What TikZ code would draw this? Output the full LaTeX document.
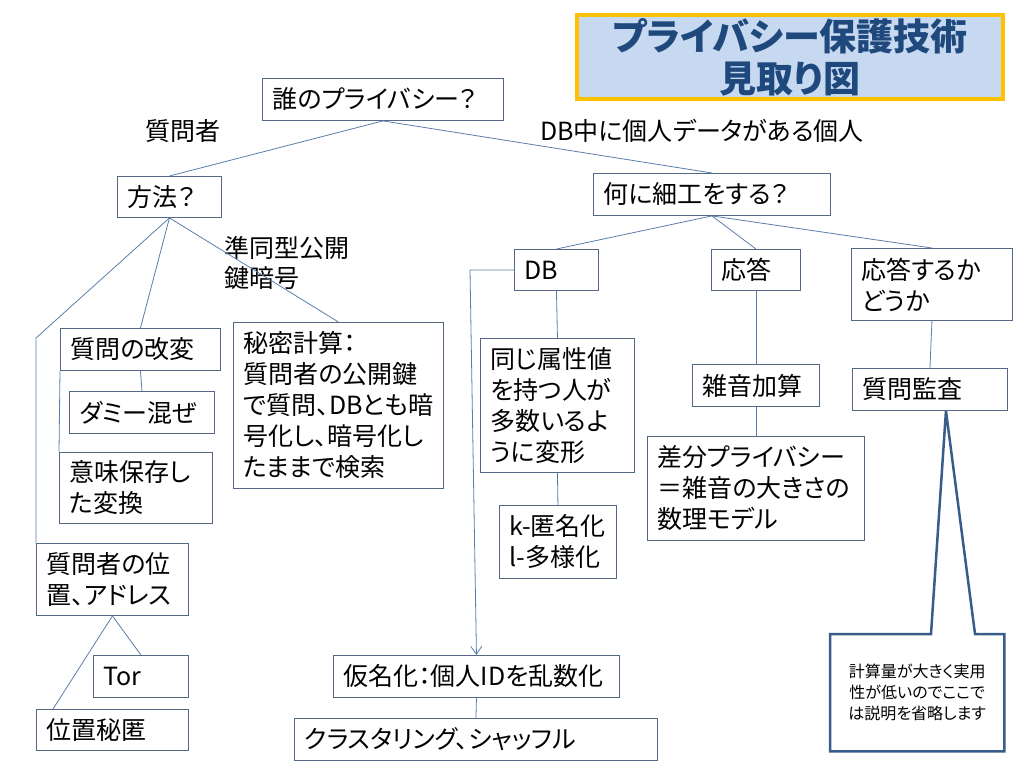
\documentclass[tikz,border=0pt]{standalone}
\usepackage{fontspec}
\setmainfont{Noto Sans CJK JP}[RawFeature=+palt]
\usepackage{tikz}
\usetikzlibrary{arrows.meta}

\definecolor{boxline}{RGB}{85,105,135}
\definecolor{linkc}{RGB}{90,125,170}
\definecolor{titlefill}{RGB}{198,217,241}
\definecolor{titleframe}{RGB}{255,192,0}
\definecolor{titletext}{RGB}{31,73,125}
\definecolor{calloutc}{RGB}{56,93,138}

\begin{document}
\begin{tikzpicture}[x=1pt, y=-1pt, >={Straight Barb[length=8pt,width=11pt]},
            font=\fontsize{25}{31}\selectfont]

            \tikzstyle{box} = [draw=boxline, line width=0.9pt, anchor=north west,
                inner xsep=10pt, inner ysep=0pt, align=left]
            \tikzstyle{plain} = [inner sep=0pt, align=left]
            \tikzstyle{link} = [draw=linkc, line width=0.8pt]
            \tikzstyle{title_box} = [fill=titlefill, draw=titleframe, line width=4.5pt,
                text=titletext, align=center, font=\fontsize{37}{42}\selectfont\bfseries]
            \tikzstyle{note_box} = [anchor=north west, inner xsep=7pt, inner ysep=0pt,
                align=center, font=\fontsize{16}{21}\selectfont]

            \useasboundingbox (0,0) rectangle (1024,768);

            \node[title_box, minimum width=426pt, minimum height=84pt](title) at (790, 57)
                {プライバシー保護技術\\見取り図};

            % top of the tree
            \node[box, text width=221pt, minimum height=42pt](who) at (262, 78) {誰のプライバシー？};
            \node[plain, anchor=west](lbl_asker) at (145, 131) {質問者};
            \node[plain, anchor=west](lbl_person) at (540, 131) {DB中に個人データがある個人};

            % asker side
            \node[box, text width=84pt, minimum height=41pt](method) at (117, 176) {方法？};
            \node[plain, anchor=north west, font=\fontsize{25}{30}\selectfont](lbl_he) at (224, 236) {準同型公開\\鍵暗号};
            \node[box, text width=140pt, minimum height=42pt](q_mod) at (60, 328) {質問の改変};
            \node[box, text width=190pt, minimum height=166pt](secret) at (233, 322)
                {秘密計算：\\質問者の公開鍵\\で質問、DBとも暗\\号化し、暗号化し\\たままで検索};
            \node[box, text width=125pt, minimum height=42pt](dummy) at (69, 391) {ダミー混ぜ};
            \node[box, text width=133pt, minimum height=71pt](semantic) at (59, 452) {意味保存し\\た変換};
            \node[box, text width=132pt, minimum height=72pt](location) at (36, 543) {質問者の位\\置、アドレス};
            \node[box, text width=75pt, minimum height=42pt](tor) at (93, 655) {Tor};
            \node[box, text width=132pt, minimum height=41pt](hide) at (36, 709) {位置秘匿};

            % data side
            \node[box, text width=217pt, minimum height=42pt](what) at (593, 173) {何に細工をする？};
            \node[box, text width=64pt, minimum height=41pt](db) at (514, 249) {DB};
            \node[box, text width=69pt, minimum height=41pt](answer) at (711, 249) {応答};
            \node[box, text width=141pt, minimum height=72pt](whether) at (851, 248) {応答するか\\どうか};
            \node[box, text width=134pt, minimum height=134pt](same_attr) at (480, 338)
                {同じ属性値\\を持つ人が\\多数いるよ\\うに変形};
            \node[box, text width=97pt, minimum height=73pt](k_anon) at (499, 505) {k-匿名化\\l-多様化};
            \node[box, text width=107pt, minimum height=42pt](noise) at (692, 364) {雑音加算};
            \node[box, text width=197pt, minimum height=104pt](diff_priv) at (647, 436)
                {差分プライバシー\\＝雑音の大きさの\\数理モデル};
            \node[box, text width=135pt, minimum height=42pt](audit) at (852, 368) {質問監査};
            \node[box, text width=266pt, minimum height=42pt](pseudo) at (333, 655) {仮名化：個人IDを乱数化};
            \node[box, text width=343pt, minimum height=42pt](cluster) at (294, 718) {クラスタリング、シャッフル};

            \node[note_box, text width=160pt, minimum height=117pt](note) at (830, 634)
                {計算量が大きく実用\\性が低いのでここで\\は説明を省略します};

            \coordinate (left_bend) at (36, 338);
            \coordinate (db_bend) at (470, 270);

            \path[link] (who.south) edge (method.north)
                (who.south) edge (what.north)
                (method.south) edge (q_mod.north)
                (method.south) edge (secret.north)
                (q_mod.south) edge (dummy.north)
                (q_mod.south west) edge (semantic.north west)
                (location.south) edge (tor.north)
                (location.south) edge ([xshift=17pt]hide.north west)
                (what.south) edge (db.north)
                (what.south) edge (answer.north)
                (what.south) edge (whether.north)
                (db.south) edge (same_attr.north)
                (same_attr.south) edge (k_anon.north)
                (answer.south) edge (noise.north)
                (noise.south) edge (diff_priv.north)
                (whether.south) edge (audit.north)
                (pseudo.south) edge (cluster.north)
            ;
            \draw[link] (method.south) -- (left_bend) -- (location.north west);
            \draw[link, ->] (db.west) -- (db_bend) -- (pseudo.north);

            % callout pointing at the audit box
            \draw[draw=calloutc, line width=2.5pt] (note.north west)
                -- ([xshift=101pt]note.north west) -- ([xshift=16pt]audit.south)
                -- ([xshift=145pt]note.north west) -- (note.north east)
                -- (note.south east) -- (note.south west) -- cycle;
\end{tikzpicture}
\end{document}
